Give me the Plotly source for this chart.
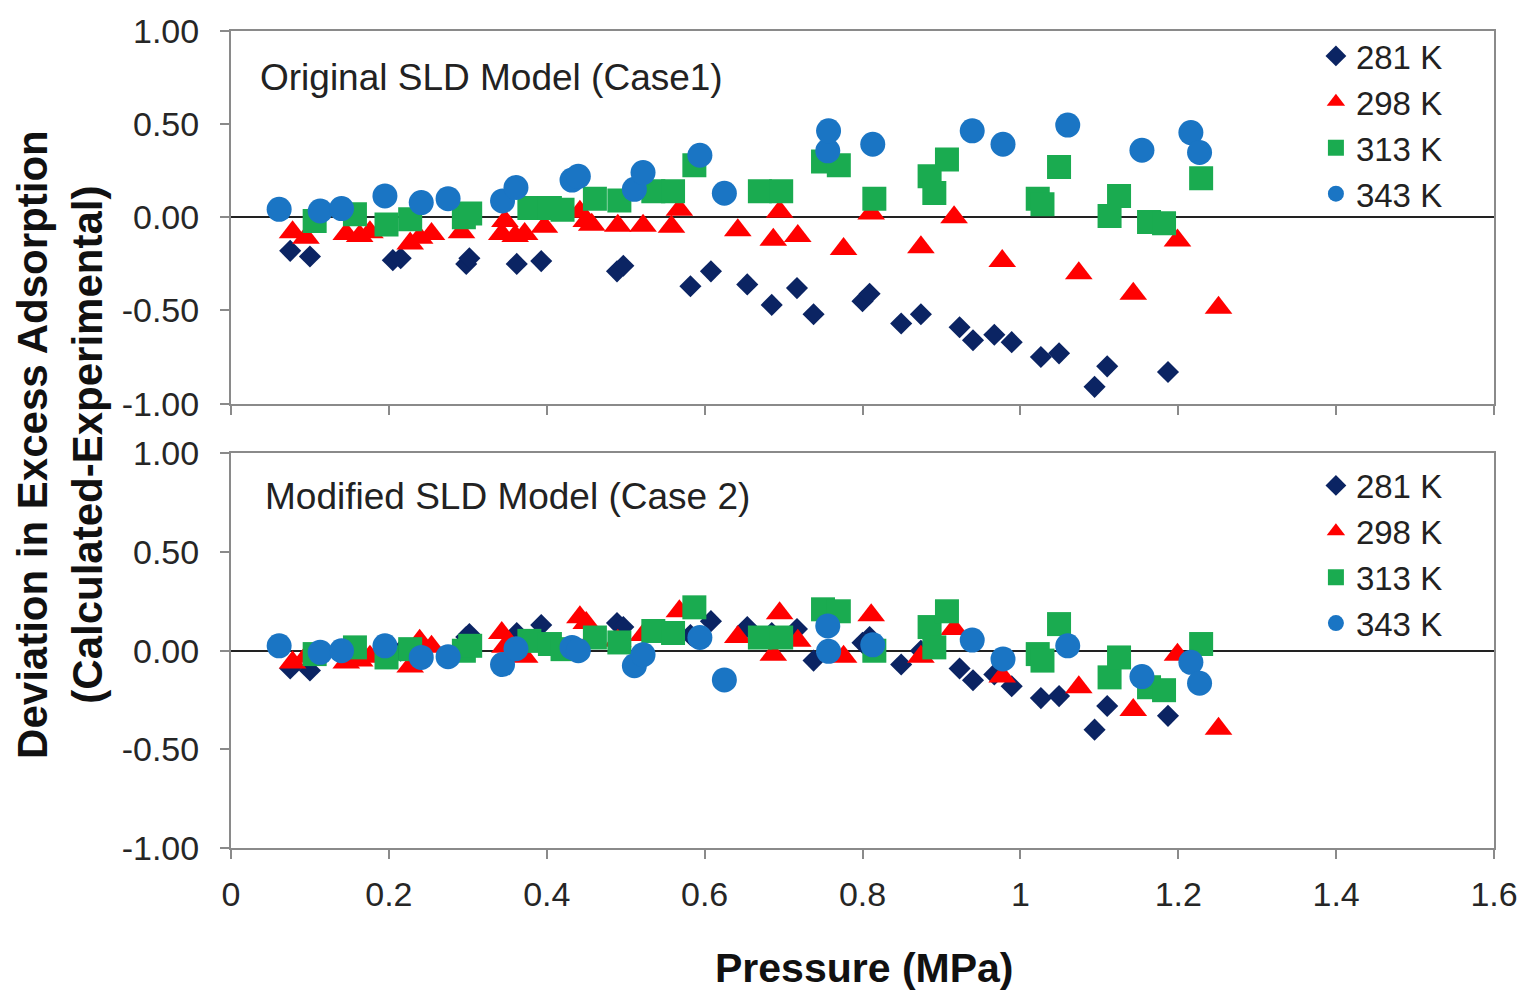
import plotly.graph_objects as go

# ---------------- data ----------------
temps = ["281 K", "298 K", "313 K", "343 K"]

p281 = [0.075, 0.100, 0.205, 0.215, 0.298, 0.302, 0.362, 0.393, 0.489, 0.497,
        0.582, 0.608, 0.654, 0.685, 0.717, 0.738, 0.800, 0.809, 0.849, 0.874,
        0.923, 0.940, 0.967, 0.989, 1.026, 1.049, 1.094, 1.110, 1.187]
case1_281 = [-0.18, -0.21, -0.23, -0.22, -0.25, -0.22, -0.25, -0.235, -0.29, -0.26,
             -0.37, -0.29, -0.36, -0.47, -0.38, -0.52, -0.45, -0.41, -0.57, -0.52,
             -0.59, -0.66, -0.63, -0.67, -0.75, -0.73, -0.91, -0.80, -0.83]
case2_281 = [-0.09, -0.10, -0.02, 0.00, 0.07, 0.085, 0.09, 0.13, 0.14, 0.12,
             0.08, 0.15, 0.12, 0.09, 0.11, -0.05, 0.04, 0.07, -0.07, 0.00,
             -0.09, -0.15, -0.12, -0.18, -0.24, -0.23, -0.40, -0.28, -0.33]

p298 = [0.078, 0.095, 0.146, 0.163, 0.176, 0.227, 0.239, 0.254, 0.292, 0.343,
        0.347, 0.360, 0.372, 0.397, 0.442, 0.450, 0.457, 0.490, 0.522, 0.558,
        0.568, 0.642, 0.687, 0.695, 0.718, 0.776, 0.811, 0.874, 0.916, 0.977,
        1.074, 1.143, 1.199, 1.251]
case1_298 = [-0.08, -0.11, -0.09, -0.10, -0.08, -0.14, -0.11, -0.09, -0.08, -0.09,
             -0.02, -0.10, -0.09, -0.05, 0.03, -0.02, -0.04, -0.045, -0.045, -0.05,
             0.04, -0.07, -0.12, 0.03, -0.10, -0.17, 0.02, -0.16, 0.00, -0.235,
             -0.30, -0.41, -0.125, -0.485]
case2_298 = [-0.06, -0.03, -0.06, -0.05, -0.03, -0.08, 0.05, 0.02, -0.02, 0.09,
             0.02, 0.00, -0.03, 0.03, 0.17, 0.14, 0.06, 0.05, 0.08, 0.08,
             0.20, 0.07, -0.02, 0.19, 0.05, -0.03, 0.18, -0.03, 0.11, -0.13,
             -0.185, -0.30, -0.02, -0.395]

p313 = [0.106, 0.157, 0.197, 0.227, 0.295, 0.303, 0.378, 0.404, 0.420, 0.461,
        0.492, 0.535, 0.560, 0.587, 0.670, 0.697, 0.750, 0.770, 0.815, 0.885,
        0.891, 0.907, 1.022, 1.028, 1.049, 1.113, 1.125, 1.163, 1.182, 1.229]
case1_313 = [-0.02, 0.016, -0.038, -0.01, 0.00, 0.02, 0.05, 0.05, 0.04, 0.10,
             0.09, 0.14, 0.14, 0.28, 0.14, 0.14, 0.30, 0.28, 0.10, 0.22,
             0.13, 0.31, 0.10, 0.07, 0.27, 0.007, 0.115, -0.025, -0.032, 0.21]
case2_313 = [-0.017, 0.017, -0.034, 0.008, 0.00, 0.025, 0.05, 0.034, 0.008, 0.067,
             0.042, 0.10, 0.09, 0.22, 0.067, 0.067, 0.21, 0.20, 0.00, 0.12,
             0.017, 0.20, -0.017, -0.05, 0.135, -0.135, -0.034, -0.185, -0.20, 0.034]

p343 = [0.061, 0.113, 0.140, 0.195, 0.241, 0.275, 0.344, 0.361, 0.432, 0.440,
        0.511, 0.522, 0.594, 0.625, 0.756, 0.757, 0.813, 0.939, 0.978, 1.060,
        1.154, 1.216, 1.227]
case1_343 = [0.043, 0.034, 0.047, 0.115, 0.079, 0.10, 0.088, 0.16, 0.20, 0.22,
             0.15, 0.24, 0.333, 0.129, 0.357, 0.464, 0.392, 0.464, 0.392, 0.495,
             0.36, 0.455, 0.348]
case2_343 = [0.025, -0.008, 0.00, 0.025, -0.034, -0.03, -0.07, 0.01, 0.017, 0.00,
             -0.076, -0.02, 0.067, -0.148, 0.126, -0.003, 0.03, 0.054, -0.042, 0.025,
             -0.131, -0.059, -0.165]

x_ticks = [0, 0.2, 0.4, 0.6, 0.8, 1, 1.2, 1.4, 1.6]
x_ticktext = ["0", "0.2", "0.4", "0.6", "0.8", "1", "1.2", "1.4", "1.6"]
y_ticks = [1, 0.5, 0, -0.5, -1]
y_ticktext = ["1.00", "0.50", "0.00", "-0.50", "-1.00"]

# ---------------- style ----------------
colors = ["#0b2463", "#ff0000", "#1aab50", "#1a75c4"]
symbols = ["diamond", "triangle-up", "square", "circle"]
sizes = [17, 24, 24, 25]
FONT = "Liberation Sans, Arial, Helvetica, sans-serif"

pressures = [p281, p298, p313, p343]
case1 = [case1_281, case1_298, case1_313, case1_343]
case2 = [case2_281, case2_298, case2_313, case2_343]

fig = go.Figure()
for i, t in enumerate(temps):
    fig.add_trace(go.Scatter(
        x=pressures[i], y=case1[i], mode="markers", name=t,
        marker=dict(symbol=symbols[i], size=sizes[i], color=colors[i], line=dict(width=0)),
        xaxis="x", yaxis="y", legend="legend"))
for i, t in enumerate(temps):
    fig.add_trace(go.Scatter(
        x=pressures[i], y=case2[i], mode="markers", name=t,
        marker=dict(symbol=symbols[i], size=sizes[i], color=colors[i], line=dict(width=0)),
        xaxis="x2", yaxis="y2", legend="legend2"))

axis_common = dict(showline=True, mirror=True, linecolor="#8a8a8a", linewidth=2,
                   showgrid=False, ticks="outside", tickcolor="#8a8a8a", ticklen=9,
                   tickwidth=1.5, tickfont=dict(family=FONT, size=34, color="#262626"))

xax = dict(range=[0, 1.6], tickvals=x_ticks, ticktext=x_ticktext, zeroline=False, **axis_common)
yax = dict(range=[-1, 1], tickvals=y_ticks, ticktext=y_ticktext, zeroline=True,
           zerolinecolor="#222222", zerolinewidth=1.5, ticklabelstandoff=14, **axis_common)

D_TOP = [0.5439, 1.0]
D_BOT = [0.0, 0.4829]

legend_style = dict(xanchor="left", yanchor="top",
                    font=dict(family=FONT, size=33, color="#222222"),
                    bgcolor="rgba(0,0,0,0)", itemsizing="trace", tracegroupgap=0)

fig.update_layout(
    width=1530, height=991,
    margin=dict(l=231, r=35, t=28, b=143),
    paper_bgcolor="white", plot_bgcolor="white",
    font=dict(family=FONT, color="#222222"),
    xaxis=dict(anchor="y", showticklabels=False, **xax),
    yaxis=dict(domain=D_TOP, anchor="x", **yax),
    xaxis2=dict(anchor="y2", ticklabelstandoff=6, **xax),
    yaxis2=dict(domain=D_BOT, anchor="x2", **yax),
    xaxis3=dict(overlaying="x2", anchor="y2", side="top", range=[0, 1.6],
                tickvals=x_ticks, showticklabels=False, ticks="inside", ticklen=9,
                tickwidth=1.5, tickcolor="#8a8a8a", showline=False, showgrid=False,
                zeroline=False),
    legend=dict(x=0.859, y=1.0037, **legend_style),
    legend2=dict(x=0.859, y=0.478, **legend_style),
    annotations=[
        dict(text="Original SLD Model (Case1)", xref="x domain", yref="y domain",
             x=0.021, y=0.876, xanchor="left", yanchor="middle", showarrow=False,
             font=dict(family=FONT, size=37, color="#222222")),
        dict(text="Modified SLD Model (Case 2)", xref="x2 domain", yref="y2 domain",
             x=0.025, y=0.891, xanchor="left", yanchor="middle", showarrow=False,
             font=dict(family=FONT, size=37, color="#222222")),
        dict(text="<b>Deviation in Excess Adsorption<br>(Calculated-Experimental)</b>",
             xref="paper", yref="paper", x=-0.135, y=0.494, xanchor="center", yanchor="middle",
             textangle=-90, showarrow=False,
             font=dict(family=FONT, size=42, color="#111111")),
        dict(text="<b>Pressure (MPa)</b>", xref="paper", yref="paper",
             x=0.5016, y=-0.1463, xanchor="center", yanchor="middle", showarrow=False,
             font=dict(family=FONT, size=41, color="#111111")),
    ],
)

fig.write_html("out.html")
